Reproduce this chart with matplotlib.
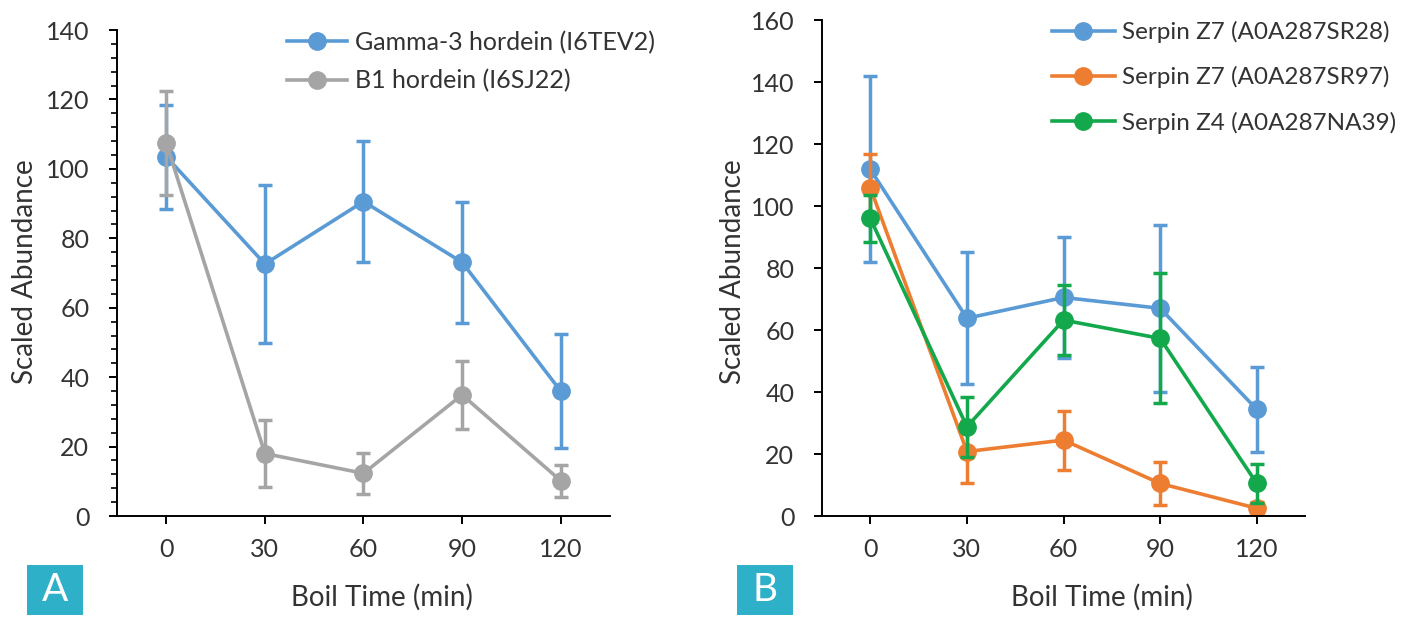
import matplotlib
matplotlib.use('Agg')
import matplotlib.pyplot as plt
import matplotlib.ticker as mtick
from matplotlib.patches import Rectangle

plt.rcParams['font.family'] = ['Lato', 'DejaVu Sans']
plt.rcParams['font.size'] = 18
plt.rcParams['axes.linewidth'] = 1.4

boil_time = [0, 30, 60, 90, 120]

# panel A
gamma3_mean = [103.5, 72.6, 90.6, 73.1, 36.0]
gamma3_err = [15.0, 22.7, 17.3, 17.5, 16.4]
b1_mean = [107.4, 18.0, 12.3, 34.9, 10.2]
b1_err = [15.0, 9.6, 6.0, 9.7, 4.6]

# panel B
sr28_mean = [111.8, 63.8, 70.5, 67.0, 34.4]
sr28_err = [30.0, 21.3, 19.5, 27.0, 13.7]
sr97_mean = [105.9, 20.8, 24.5, 10.5, 2.5]
sr97_err = [10.8, 10.0, 9.5, 7.0, 2.0]
na39_mean = [96.0, 28.8, 63.2, 57.3, 10.5]
na39_err = [7.5, 9.7, 11.3, 21.0, 6.3]

blue = '#5B9BD5'
gray = '#A5A5A5'
orange = '#ED7D31'
green = '#13A84B'
teal = '#2DB0C8'
txt = '#333333'

fig = plt.figure(figsize=(14.1, 6.18), dpi=100)
axA = fig.add_axes([0.0830, 0.165, 0.3496, 0.7864])
axB = fig.add_axes([0.5830, 0.165, 0.3426, 0.8026])


def draw(ax, mean, err, color, label):
  ax.errorbar(boil_time, mean, yerr=err, fmt='none', ecolor=color,
              capsize=5, capthick=2.5, elinewidth=2.5)
  ax.plot(boil_time, mean, color=color, lw=2.6, marker='o', markersize=12.5, label=label)


def style(ax, ymax):
  for s in ['top', 'right']:
    ax.spines[s].set_visible(False)
  ax.set_xlim(-15, 135)
  ax.set_ylim(0, ymax)
  ax.set_xticks(boil_time)
  ax.set_yticks(range(0, ymax + 1, 20))
  ax.tick_params(axis='both', direction='out', length=6, width=1.4, colors='black',
                 labelsize=18, labelcolor=txt)
  ax.tick_params(axis='y', pad=14)
  ax.tick_params(axis='x', pad=10)


draw(axA, gamma3_mean, gamma3_err, blue, 'Gamma-3 hordein (I6TEV2)')
draw(axA, b1_mean, b1_err, gray, 'B1 hordein (I6SJ22)')
style(axA, 140)
axA.yaxis.set_minor_locator(mtick.MultipleLocator(4))
axA.tick_params(axis='y', which='minor', direction='out', length=4, width=1.2)
axA.legend(loc='upper left', bbox_to_anchor=(0.30, 1.045), frameon=False, fontsize=18,
           handlelength=2.4, labelspacing=0.6, handletextpad=0.3, labelcolor=txt)

draw(axB, sr28_mean, sr28_err, blue, 'Serpin Z7 (A0A287SR28)')
draw(axB, sr97_mean, sr97_err, orange, 'Serpin Z7 (A0A287SR97)')
draw(axB, na39_mean, na39_err, green, 'Serpin Z4 (A0A287NA39)')
style(axB, 160)
axB.legend(loc='upper left', bbox_to_anchor=(0.43, 1.042), frameon=False, fontsize=17.5,
           handlelength=2.6, labelspacing=0.95, handletextpad=0.3, labelcolor=txt)

for ax, xc, yc in [(axA, 382, 25), (axB, 1102, 733)]:
  fig.text(xc / 1410, 1 - 597 / 618, 'Boil Time (min)', ha='center', va='center',
           fontsize=20, color=txt)
  fig.text(yc / 1410, 1 - 272 / 618, 'Scaled Abundance', ha='center', va='center',
           rotation=90, fontsize=20, color=txt)

for x0, lab in [(27, 'A'), (737, 'B')]:
  fig.add_artist(Rectangle((x0 / 1410, 3 / 618), 56 / 1410, 50 / 618,
                           transform=fig.transFigure, facecolor=teal, edgecolor='none'))
  fig.text((x0 + 28) / 1410, 28 / 618, lab, ha='center', va='center',
           fontsize=28, color='white')

fig.savefig('out.png', dpi=100)
